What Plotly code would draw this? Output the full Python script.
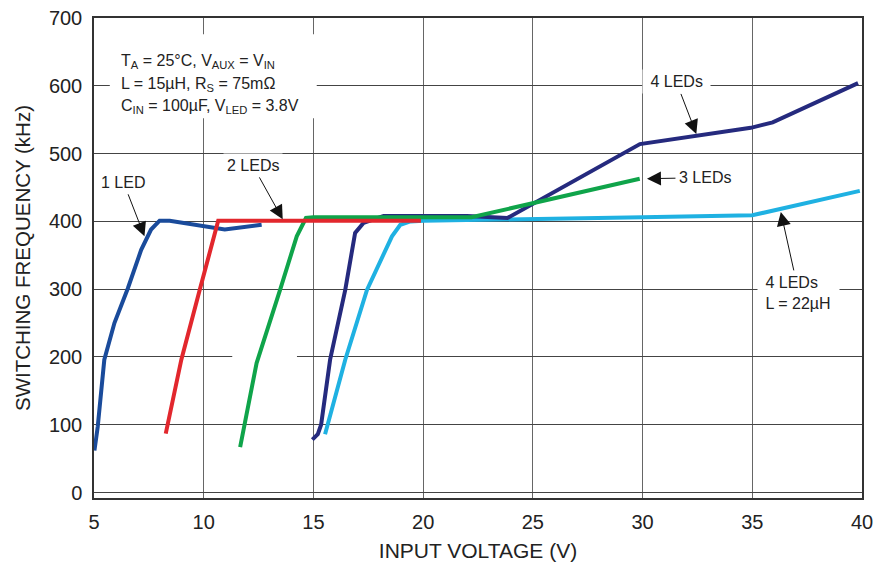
import plotly.graph_objects as go

# ---- data (input voltage V, switching frequency kHz) ----
led1_x = [5.02, 5.17, 5.47, 5.93, 6.54, 7.15, 7.6, 7.99, 8.45, 10.96, 12.64]
led1_y = [62, 97, 196, 250, 301, 358, 388, 401, 401, 388, 395]

led2_x = [8.27, 8.98, 9.82, 10.55, 10.66, 19.9]
led2_y = [87, 196, 299, 388, 401, 401]

led3_x = [11.66, 12.41, 13.48, 14.24, 14.66, 15.0, 22.2, 29.87]
led3_y = [67, 191, 299, 378, 405, 406, 406, 463]

led4_x = [14.95, 15.2, 15.35, 15.76, 16.45, 16.9, 17.29, 18.2, 22.0, 23.84, 29.88, 32.5, 34.93, 35.93, 39.82]
led4_y = [78, 86, 100, 196, 299, 383, 398, 408, 408, 405, 514, 527, 538, 546, 604]

led4l_x = [15.53, 16.45, 17.44, 18.58, 18.96, 19.42, 20.0, 25.0, 30.0, 35.0, 39.9]
led4l_y = [86, 196, 299, 378, 395, 400, 401, 403, 406, 409, 445]

x_ticks = [5, 10, 15, 20, 25, 30, 35, 40]
y_ticks = [0, 100, 200, 300, 400, 500, 600, 700]

cond_lines = ["T<sub>A</sub> = 25°C, V<sub>AUX</sub> = V<sub>IN</sub>",
              "L = 15µH, R<sub>S</sub> = 75mΩ",
              "C<sub>IN</sub> = 100µF, V<sub>LED</sub> = 3.8V"]

FONT = "Arial, Liberation Sans, sans-serif"

fig = go.Figure()

def add(x, y, color):
    fig.add_trace(go.Scatter(x=x, y=y, mode="lines",
                             line=dict(color=color, width=4),
                             showlegend=False, hoverinfo="skip"))

add(led4l_x, led4l_y, "#1fb1e2")
add(led4_x, led4_y, "#252a7e")
add(led3_x, led3_y, "#0fa44a")
add(led1_x, led1_y, "#1a4b9b")
add(led2_x, led2_y, "#e2272d")

# white masks over the grid (between grid and traces)
fig.add_shape(type="rect", xref="x", yref="y", x0=5.72, x1=15.15, y0=552, y1=676,
              fillcolor="white", line=dict(width=0), layer="between")
fig.add_shape(type="rect", xref="x", yref="y", x0=11.3, x1=14.25, y0=195, y1=205,
              fillcolor="white", line=dict(width=0), layer="between")

for line, yp in zip(cond_lines, [0.909, 0.861, 0.815]):
    fig.add_annotation(xref="paper", yref="paper", x=0.033, y=yp, xanchor="left", yanchor="middle",
                       text=line, showarrow=False, align="left",
                       font=dict(family=FONT, size=16, color="#222"))

arrow_common = dict(showarrow=True, arrowhead=2, arrowsize=2.8, arrowwidth=1,
                    arrowcolor="#111", bgcolor="white", borderpad=3,
                    font=dict(family=FONT, size=16, color="#222"), standoff=0)

fig.add_annotation(x=7.3, y=378, ax=-21, ay=-54, text="1 LED", **arrow_common)
fig.add_annotation(x=13.6, y=403, ax=-30, ay=-54, text="2 LEDs", **arrow_common)
fig.add_annotation(x=32.45, y=529, ax=-20, ay=-52, text="&nbsp;4 LEDs&nbsp;", **arrow_common)
fig.add_annotation(x=30.2, y=463, ax=58, ay=-1, text="3 LEDs", **arrow_common)
fig.add_annotation(x=36.3, y=414, ax=18, ay=81, text="&nbsp;4 LEDs&nbsp;&nbsp;&nbsp;&nbsp;<br>&nbsp;L = 22µH&nbsp;",
                   align="left", **arrow_common)

axis_common = dict(showgrid=True, gridwidth=1,
                   showline=True, linecolor="#333", linewidth=1.5, mirror=True,
                   zeroline=False, ticks="", automargin=False, ticklabeloverflow="allow",
                   tickfont=dict(family=FONT, size=20, color="#222"))

fig.update_xaxes(range=[5, 40], tickvals=x_ticks, ticktext=[str(v) for v in x_ticks],
                 gridcolor="#666", ticklabelstandoff=5,
                 title=dict(text="INPUT VOLTAGE (V)", font=dict(family=FONT, size=21, color="#222"), standoff=12),
                 **axis_common)
fig.update_yaxes(range=[-8, 700], tickvals=y_ticks, ticktext=[str(v) for v in y_ticks],
                 gridcolor="#444", ticklabelstandoff=6,
                 title=dict(text="SWITCHING FREQUENCY (kHz)", font=dict(family=FONT, size=20.5, color="#222"), standoff=13),
                 **axis_common)

fig.update_layout(width=874, height=568, plot_bgcolor="white", paper_bgcolor="white",
                  margin=dict(l=94, r=12, t=18, b=70))

# remove the default 8px page margin so the figure fills the window exactly
fig.write_html("out.html", config={"displayModeBar": False},
               post_script="document.body.style.margin='0';document.body.style.overflow='hidden';")
